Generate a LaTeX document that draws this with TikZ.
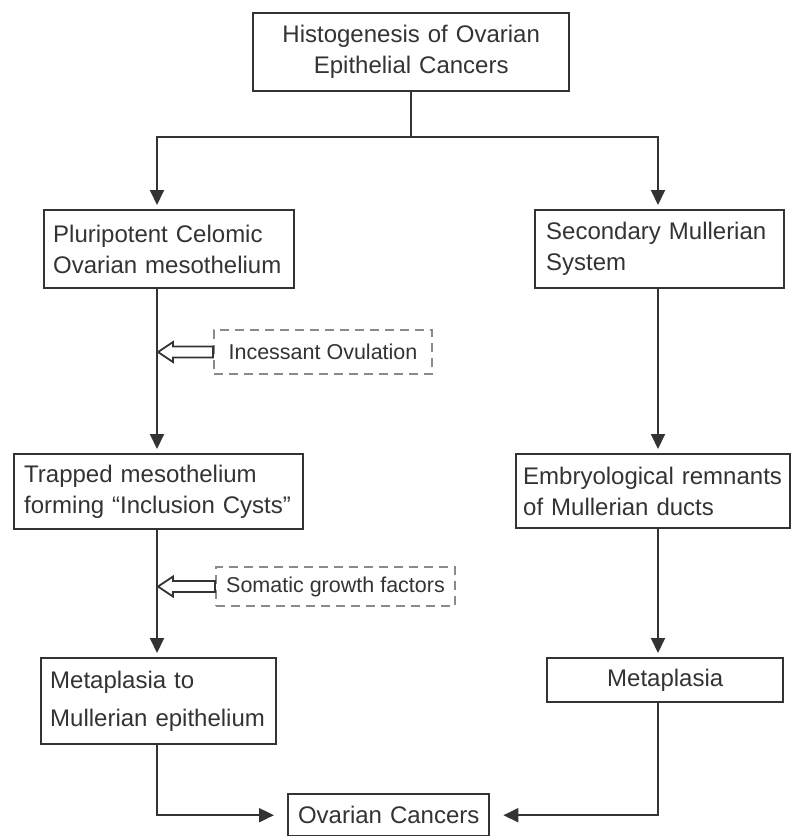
\documentclass[tikz,border=0pt]{standalone}
\usepackage{fontspec}
\setmainfont{Liberation Sans}
\usetikzlibrary{arrows.meta,calc}
\definecolor{ink}{HTML}{333333}
\definecolor{dash}{HTML}{8A8A8A}
\begin{document}
\begin{tikzpicture}[x=1pt,y=-1pt,
  box/.style={draw=ink, line width=2.4pt, text=ink, anchor=north west, inner xsep=9pt, inner ysep=0pt,
    font=\fontsize{24}{31}\selectfont},
  dbox/.style={draw=dash, line width=2pt, dash pattern=on 9pt off 6pt, text=ink, anchor=north west,
    inner xsep=0pt, inner ysep=0pt, align=center, font=\fontsize{21.5}{26}\selectfont},
  ln/.style={draw=ink, line width=2pt},
  arr/.style={ln, -{Triangle[length=15pt,width=14pt]}, shorten >=4pt},
  harr/.style={ln, -{Triangle[length=15pt,width=14pt]}, shorten >=13pt},
  hollow/.style={draw=ink, line width=1.8pt, fill=white, line join=miter}
]
\useasboundingbox (0,0) rectangle (791,836);

\node[box, minimum width=316, minimum height=78, text width=298, align=center] (top) at (252,12)
  {Histogenesis of Ovarian\\Epithelial Cancers};

\node[box, minimum width=250, minimum height=78, text width=232, align=left] (p1) at (43,209)
  {Pluripotent Celomic\\Ovarian mesothelium};
\node[box, minimum width=249, minimum height=78, text width=227, inner xsep=11pt, align=left] (s1) at (534,209)
  {Secondary Mullerian\\System};

\node[dbox, minimum width=218, minimum height=44] (inc) at (213,329) {Incessant Ovulation};

\node[box, minimum width=289, minimum height=75, text width=269, inner xsep=10pt, align=left] (t2) at (13,453)
  {Trapped mesothelium\\forming “Inclusion Cysts”};
\node[box, minimum width=274, minimum height=74, text width=260, inner xsep=7pt, align=left] (e2) at (515,453)
  {Embryological remnants\\of Mullerian ducts};

\node[dbox, minimum width=239, minimum height=39] (som) at (215,566) {Somatic growth factors};

\node[box, minimum width=235, minimum height=86, text width=217, align=left,
  font=\fontsize{24}{38}\selectfont] (m3) at (40,657)
  {Metaplasia to\\Mullerian epithelium};
\node[box, minimum width=236, minimum height=44, text width=218, align=center] (mr) at (546,657)
  {Metaplasia};

\node[box, minimum width=201, minimum height=42, text width=183, align=center] (oc) at (287,793)
  {Ovarian Cancers};

\coordinate (Lx) at (157,137);
\coordinate (Rx) at (658,137);

\draw[ln] (top.south) -- (top.south |- Lx);
\draw[arr] (top.south |- Lx) -- (Lx) -- (p1.north -| Lx);
\draw[arr] (top.south |- Lx) -- (Rx) -- (s1.north -| Rx);

\draw[arr] (p1.south -| Lx) -- (t2.north -| Lx);
\draw[arr] (t2.south -| Lx) -- (m3.north -| Lx);
\draw[harr] (m3.south -| Lx) |- (oc.west);

\draw[arr] (s1.south -| Rx) -- (e2.north -| Rx);
\draw[arr] (e2.south -| Rx) -- (mr.north -| Rx);
\draw[harr] (mr.south -| Rx) |- (oc.east);

\foreach \n in {inc,som}{
  \draw[hollow] ($(\n.west -| Lx)+(1,0)$) -- ++(15,-10) -- ++(0,4.5)
    -- ($(\n.west)+(0,-5.5)$) -- ++(0,11)
    -- ($(\n.west -| Lx)+(16,5.5)$) -- ++(0,4.5) -- cycle;
}
\end{tikzpicture}
\end{document}
